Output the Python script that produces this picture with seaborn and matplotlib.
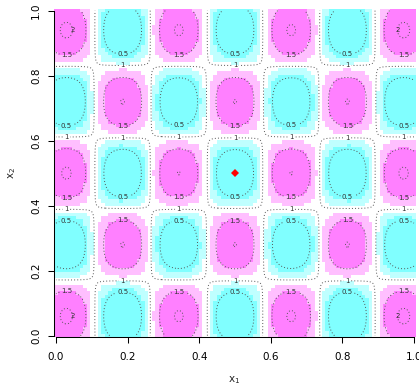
import numpy as np
import matplotlib
matplotlib.use("Agg")
import matplotlib.pyplot as plt
from matplotlib.colors import ListedColormap, BoundaryNorm
import seaborn as sns

# ---- data ----
x1_centers = [0.029, 0.186, 0.343, 0.500, 0.657, 0.814, 0.971]
x2_centers = [0.06, 0.28, 0.50, 0.72, 0.94]
# extreme value of each blob (rows: x2 from bottom to top, cols: x1 left to right)
blob_extremes = [
    [2.06, -0.04, 2.03, -0.03, 2.03, -0.04, 2.06],
    [-0.04, 2.006, -0.02, 2.004, -0.02, 2.006, -0.04],
    [2.035, -0.02, 2.003, 0.00, 2.003, -0.02, 2.035],
    [-0.04, 2.006, -0.02, 2.004, -0.02, 2.006, -0.04],
    [2.06, -0.04, 2.03, -0.03, 2.03, -0.04, 2.06],
]
baseline = 1.02
color_breaks = [-1.0, 0.67, 0.90, 1.18, 1.48, 3.0]
color_values = ["#80FFFF", "#BFFFFF", "#FFFFFF", "#FFBFFF", "#FF80FF"]
contour_levels = [0.5, 1.0, 1.5, 2.0]
contour_labels = ["0.5", "1", "1.5", "2"]
tick_values = [0.0, 0.2, 0.4, 0.6, 0.8, 1.0]
tick_labels = ["0.0", "0.2", "0.4", "0.6", "0.8", "1.0"]
marker_x1 = [0.5]
marker_x2 = [0.5]

c1 = np.array(x1_centers)
c2 = np.array(x2_centers)
V = np.array(blob_extremes)
s1 = np.diff(c1).mean()
s2 = np.diff(c2).mean()


def field(g1, g2):
    X1, X2 = np.meshgrid(g1, g2)
    i = np.abs(X1[..., None] - c1).argmin(-1)
    j = np.abs(X2[..., None] - c2).argmin(-1)
    shape = np.cos(np.pi * (X1 - c1[i]) / s1) * np.cos(np.pi * (X2 - c2[j]) / s2)
    return baseline + (V[j, i] - baseline) * shape


n = 100
g = np.linspace(0, 1, n)
Z = field(g, g)
gf = np.linspace(0, 1, 401)
Zf = field(gf, gf)


def u(x):
    return np.asarray(x) * (n - 1) + 0.5


sns.set_style("ticks")
plt.rcParams["font.family"] = ["DejaVu Sans"]

W, H = 419, 388
fig = plt.figure(figsize=(W / 100, H / 100), dpi=100)
left, right, top, bottom = 54.2, 415.8, 9.0, 337.3
ax = fig.add_axes([left / W, (H - bottom) / H, (right - left) / W, (bottom - top) / H])

cmap = ListedColormap(color_values)
norm = BoundaryNorm(color_breaks, cmap.N)
sns.heatmap(Z, ax=ax, cmap=cmap, norm=norm, cbar=False,
            xticklabels=False, yticklabels=False)
ax.set_xlim(0, n)
ax.set_ylim(0, n)

# label anchor points: one per blob on its oval, one "1" per low blob
label_pts = {lv: [] for lv in contour_levels}
for j, yc in enumerate(x2_centers):
    for i, xc in enumerate(x1_centers):
        low = V[j, i] < 1
        off = -0.075 if yc >= 0.5 else 0.075
        label_pts[0.5 if low else 1.5].append((u(xc), u(yc + off)))
        if low:
            off1 = -0.11 if yc > 0.5 else 0.11
            label_pts[1.0].append((u(xc), u(yc + off1)))
        if V[j, i] > 2.05:
            label_pts[2.0].append((u(xc), u(yc)))

for lv, lab in zip(contour_levels, contour_labels):
    cs = ax.contour(u(gf), u(gf), Zf, levels=[lv], colors="#555555",
                    linewidths=0.7, linestyles=[(0, (1, 2.2))])
    if label_pts[lv]:
        texts = ax.clabel(cs, fmt={lv: lab}, fontsize=5, inline=(lv != 2.0),
                          inline_spacing=1.5, colors="#333333",
                          manual=label_pts[lv])
        for t in texts:
            t.set_rotation(0)

ax.plot(u(marker_x1), u(marker_x2), linestyle="none", marker="D",
        color="red", markersize=4.2, markeredgewidth=0)

for side in ["left", "bottom"]:
    ax.spines[side].set_visible(True)
    ax.spines[side].set_linewidth(0.75)
    ax.spines[side].set_color("black")
ax.spines["left"].set_bounds(u(0), u(1))
ax.spines["bottom"].set_bounds(u(0), u(1))
for side in ["top", "right"]:
    ax.spines[side].set_visible(False)

ax.set_xticks(u(tick_values))
ax.set_xticklabels(tick_labels)
ax.set_yticks(u(tick_values))
ax.set_yticklabels(tick_labels, rotation=90, va="center")
ax.tick_params(axis="both", direction="out", length=4.3, width=0.75,
               colors="black", labelsize=7.5)
ax.tick_params(axis="x", pad=6.3)
ax.tick_params(axis="y", pad=5.2)
ax.set_xlabel("")
ax.set_ylabel("")

fig.text(234 / W, 1 - 380 / H, r"$\mathregular{x_1}$", ha="center", va="center", fontsize=7.5)
fig.text(12 / W, 1 - 173 / H, r"$\mathregular{x_2}$", ha="center", va="center",
         fontsize=7.5, rotation=90)

fig.savefig("out.png", dpi=100)
